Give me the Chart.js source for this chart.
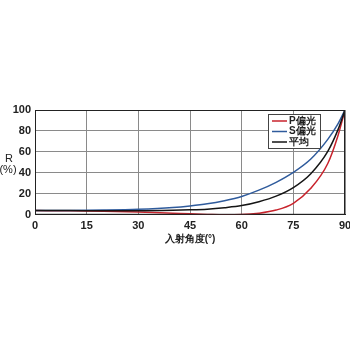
<!DOCTYPE html>
<html>
<head>
<meta charset="utf-8">
<script src="https://cdn.jsdelivr.net/npm/chart.js@4"></script>
<style>
  html, body { margin: 0; padding: 0; background: #fff; }
  #wrap { width: 350px; height: 350px; }
</style>
</head>
<body>
<div id="wrap"><canvas id="myChart" width="350" height="350"></canvas></div>
<script>
// data
const angles = [0, 10, 20, 30, 40, 45, 50, 55, 60, 65, 70, 75, 80, 85, 88, 90];
const pPol = [4.0, 3.9, 3.4, 2.6, 1.5, 0.9, 0.4, 0.0, 0.2, 1.5, 4.5, 11, 25, 49, 76, 100];
const sPol = [4.0, 4.1, 4.5, 5.3, 7.0, 8.5, 10.5, 13.5, 17.5, 23.5, 31, 40.5, 53, 72, 87, 100];
const avg = [4.0, 4.0, 3.9, 3.9, 4.3, 4.7, 5.4, 6.8, 8.8, 12.5, 17.8, 26, 39, 60.5, 81.5, 100];
const seriesNames = ['P偏光', 'S偏光', '平均'];
const seriesColors = ['#c8232c', '#2f5b9c', '#151515'];
const xTicks = [0, 15, 30, 45, 60, 75, 90];

const FONT = 'Liberation Sans, Arial, sans-serif';

const toPts = arr => angles.map((a, i) => ({ x: a, y: arr[i] }));

// y title drawn horizontally + legend box inside the plot
const extras = {
  id: 'extras',
  afterDraw(chart) {
    const ctx = chart.ctx;
    const area = chart.chartArea;
    ctx.save();
    // plot border
    ctx.strokeStyle = '#222';
    ctx.lineWidth = 1;
    ctx.strokeRect(area.left + 0.5, area.top + 0.5, area.right - area.left - 1, area.bottom - area.top - 1);

    ctx.fillStyle = '#222';
    ctx.font = '11px ' + FONT;
    ctx.textAlign = 'center';
    ctx.textBaseline = 'middle';
    ctx.fillText('R', 9, 159);
    ctx.fillText('(%)', 8, 170);

    // legend
    const lx = 268, ly = 114, lw = 52, lh = 34;
    ctx.fillStyle = '#fff';
    ctx.fillRect(lx, ly, lw, lh);
    ctx.strokeStyle = '#444';
    ctx.strokeRect(lx + 0.5, ly + 0.5, lw, lh);
    ctx.font = 'bold 10px ' + FONT;
    ctx.textAlign = 'left';
    seriesNames.forEach((name, i) => {
      const y = ly + 7 + i * 10.5;
      ctx.strokeStyle = seriesColors[i];
      ctx.lineWidth = 1.5;
      ctx.beginPath();
      ctx.moveTo(lx + 4, y);
      ctx.lineTo(lx + 19, y);
      ctx.stroke();
      ctx.fillStyle = '#222';
      ctx.fillText(name, lx + 21, y);
    });
    ctx.restore();
  }
};

const data = {
  datasets: [pPol, sPol, avg].map((arr, i) => ({
    label: seriesNames[i],
    data: toPts(arr),
    borderColor: seriesColors[i],
    backgroundColor: seriesColors[i],
    borderWidth: 1.5,
    pointRadius: 0,
    cubicInterpolationMode: 'monotone',
    order: 2 - i
  }))
};

const config = {
  type: 'line',
  data: data,
  options: {
    responsive: false,
    animation: false,
    layout: { padding: { top: 110, right: 0, bottom: 105, left: 0 } },
    plugins: { legend: { display: false }, tooltip: { enabled: false } },
    scales: {
      x: {
        type: 'linear',
        min: 0,
        max: 90,
        afterBuildTicks: axis => { axis.ticks = xTicks.map(v => ({ value: v })); },
        afterFit: axis => { axis.paddingRight = 5; },
        grid: { color: '#8a8a8a', lineWidth: 1, drawTicks: false },
        border: { color: '#222' },
        ticks: { color: '#222', font: { family: FONT, size: 11, weight: 'bold' }, padding: 5, maxRotation: 0 },
        title: { display: true, text: '入射角度(°)', color: '#222', font: { family: FONT, size: 10, weight: 'bold' }, padding: { top: -5, bottom: 0 } }
      },
      y: {
        min: 0,
        max: 100,
        ticks: { stepSize: 20, color: '#222', font: { family: FONT, size: 11, weight: 'bold' }, padding: 4 },
        grid: { color: '#8a8a8a', lineWidth: 1, drawTicks: false },
        border: { color: '#222' },
        afterFit: axis => { axis.width = 35; }
      }
    }
  },
  plugins: [extras]
};

const myChart = new Chart(document.getElementById('myChart'), config);
</script>
</body>
</html>
